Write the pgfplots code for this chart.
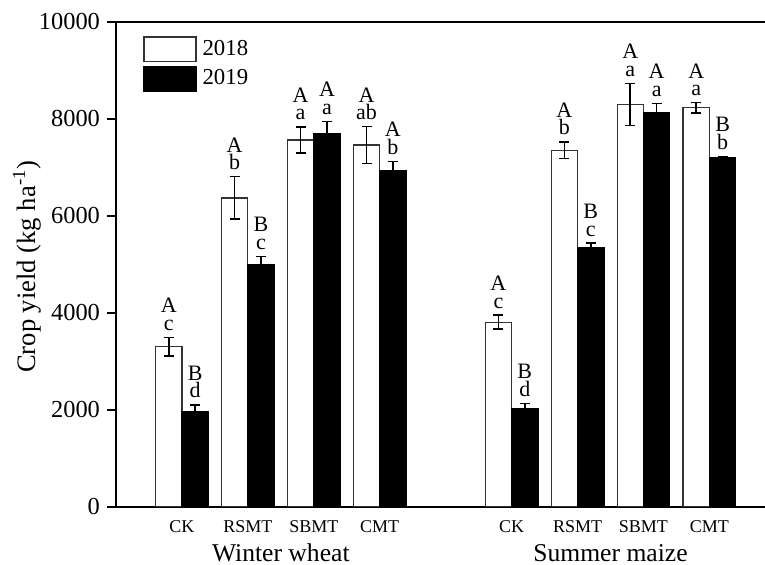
\documentclass[border=0pt]{standalone}
\usepackage{pgfplots}
\pgfplotsset{compat=1.18}
\usepackage{pgfplotstable}
\usepackage{fontspec}
\setmainfont{Liberation Serif}

% bar centres: 2018 bars at category-0.2, 2019 bars at category+0.2
\pgfplotstableread{
x y e
0.8 3300 190
1.8 6370 440
2.8 7565 270
3.8 7460 380
5.8 3805 145
6.8 7355 175
7.8 8300 435
8.8 8230 105
}\yA
\pgfplotstableread{
x y e
1.2 1960 140
2.2 4990 170
3.2 7690 260
4.2 6940 185
6.2 2020 110
7.2 5350 85
8.2 8130 190
9.2 7195 30
}\yB

\newcommand\lab[4]{%
  \node[anchor=base, inner sep=0pt, font=\fontsize{11}{12}\selectfont, yshift=3.5pt] at (axis cs:#1,#2) {#4};
  \node[anchor=base, inner sep=0pt, font=\fontsize{11}{12}\selectfont, yshift=12.3pt] at (axis cs:#1,#2) {#3};
}

\begin{document}
\begin{tikzpicture}
\begin{axis}[
  name=ax,
  scale only axis,
  width=324.5pt, height=242.35pt,
  xmin=0, xmax=9.843,
  ymin=0, ymax=10000,
  axis y line*=left,
  axis line style={line width=1pt},
  xtick={1,2,3,4,6,7,8,9},
  xticklabels={CK,RSMT,SBMT,CMT,CK,RSMT,SBMT,CMT},
  xtick style={draw=none},
  minor xtick={0.5,1.5,...,9.5},
  minor x tick style={line width=1pt, black},
  minor tick length=3pt,
  xtick pos=bottom,
  tick align=outside,
  xticklabel style={font=\fontsize{9}{10}\selectfont, yshift=1pt},
  ytick={0,2000,...,10000},
  ytick style={line width=1pt, black},
  major tick length=4.5pt,
  yticklabel style={font=\fontsize{12.2}{14}\selectfont},
  /pgf/number format/assume math mode=true,
  /pgf/number format/1000 sep={},
  scaled y ticks=false,
  ylabel={Crop yield (kg ha\textsuperscript{-1})},
  ylabel style={at={(axis description cs:-0.137,0.495)}, anchor=center, font=\fontsize{13.3}{15}\selectfont},
  legend style={at={(axis description cs:0.0416,0.971)}, anchor=north west, draw=none, fill=none,
     inner sep=0pt, row sep=2pt, column sep=3pt,
     nodes={inner sep=0pt, text height=9pt, text depth=3.3pt},
     font=\fontsize{11.4}{13}\selectfont},
  legend cell align=left,
  legend image code/.code={\draw[#1] (0pt,-6.15pt) rectangle (26pt,6.15pt);},
  clip=false,
]
\addplot[ybar, bar width=0.4, bar shift=0, fill=white, draw=black!80, line width=0.6pt,
  error bars/.cd, y dir=both, y explicit,
  error bar style={line width=0.8pt, black},
  error mark options={rotate=90, mark size=2.5pt, line width=0.8pt, black}]
  table[x=x, y=y, y error=e] {\yA};
\addlegendentry{2018}
\addplot[ybar, bar width=0.4, bar shift=0, fill=black, draw=black, line width=0.6pt,
  error bars/.cd, y dir=both, y explicit,
  error bar style={line width=0.8pt, black},
  error mark options={rotate=90, mark size=2.5pt, line width=0.8pt, black}]
  table[x=x, y=y, y error=e] {\yB};
\addlegendentry{2019}

\lab{0.8}{3490}{A}{c}
\lab{1.2}{2100}{B}{d}
\lab{1.8}{6810}{A}{b}
\lab{2.2}{5160}{B}{c}
\lab{2.8}{7835}{A}{a}
\lab{3.2}{7950}{A}{a}
\lab{3.8}{7840}{A}{ab}
\lab{4.2}{7125}{A}{b}
\lab{5.8}{3950}{A}{c}
\lab{6.2}{2130}{B}{d}
\lab{6.8}{7530}{A}{b}
\lab{7.2}{5435}{B}{c}
\lab{7.8}{8735}{A}{a}
\lab{8.2}{8320}{A}{a}
\lab{8.8}{8335}{A}{a}
\lab{9.2}{7225}{B}{b}

\node[anchor=base, font=\fontsize{12.8}{14}\selectfont, inner sep=0pt] at (axis cs:2.5,0) [yshift=-27.5pt] {Winter wheat};
\node[anchor=base, font=\fontsize{12.8}{14}\selectfont, inner sep=0pt] at (axis cs:7.5,0) [yshift=-27.5pt] {Summer maize};
\end{axis}
\pgfresetboundingbox
\path[use as bounding box] ([xshift=-58pt,yshift=-29.15pt]ax.south west) rectangle ([yshift=11pt]ax.north east);
\end{tikzpicture}
\end{document}
